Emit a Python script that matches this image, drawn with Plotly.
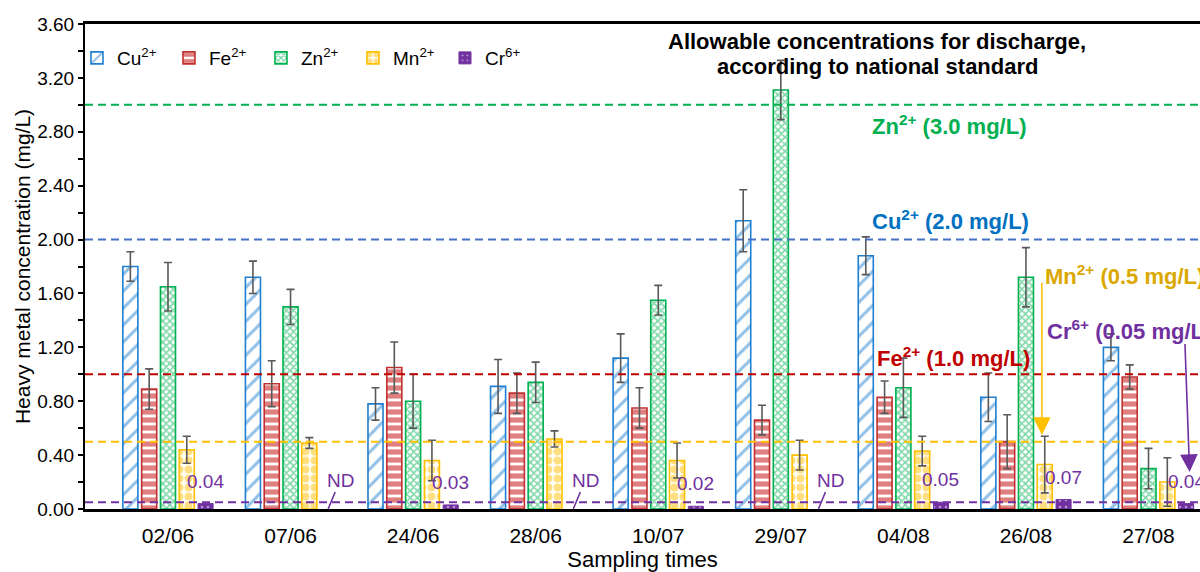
import plotly.graph_objects as go

# ---------------- data ----------------
dates = ["02/06", "07/06", "24/06", "28/06", "10/07", "29/07", "04/08", "26/08", "27/08"]

cu = [1.80, 1.72, 0.78, 0.91, 1.12, 2.14, 1.88, 0.83, 1.20]
cu_err = [0.11, 0.12, 0.12, 0.20, 0.18, 0.23, 0.14, 0.18, 0.10]

fe = [0.89, 0.93, 1.05, 0.86, 0.75, 0.66, 0.83, 0.50, 0.98]
fe_err = [0.15, 0.17, 0.19, 0.15, 0.15, 0.11, 0.12, 0.20, 0.09]

zn = [1.65, 1.50, 0.80, 0.94, 1.55, 3.11, 0.90, 1.72, 0.30]
zn_err = [0.18, 0.13, 0.20, 0.15, 0.11, 0.22, 0.22, 0.22, 0.15]

mn = [0.44, 0.49, 0.36, 0.52, 0.36, 0.40, 0.43, 0.33, 0.20]
mn_err = [0.10, 0.04, 0.15, 0.06, 0.13, 0.11, 0.11, 0.21, 0.18]

cr = [0.04, None, 0.03, None, 0.02, None, 0.05, 0.07, 0.04]
cr_labels = ["0.04", "ND", "0.03", "ND", "0.02", "ND", "0.05", "0.07", "0.04"]

limit_names = ["Zn", "Cu", "Fe", "Mn", "Cr"]
limit_values = [3.0, 2.0, 1.0, 0.5, 0.05]

# ---------------- styles ----------------
C_CU, C_CU_LINE, C_CU_TXT = "#1F7FD0", "#4472C4", "#0070C0"
C_FE = "#C00000"
C_ZN = "#00B050"
C_MN, C_MN_TXT = "#FFC000", "#DBA800"
C_CR = "#7030A0"
ERR = "#595959"
FONT = "Liberation Sans, Arial, sans-serif"

limit_colors = {"Zn": C_ZN, "Cu": C_CU_LINE, "Fe": C_FE, "Mn": C_MN, "Cr": C_CR}

def err(arr):
    return dict(type="data", array=arr, visible=True, color=ERR, thickness=1.6, width=4)

fig = go.Figure()
fig.add_trace(go.Bar(
    x=dates, y=cu, name="Cu<sup>2+</sup>", error_y=err(cu_err),
    marker=dict(color="white", line=dict(color=C_CU, width=1.6),
                pattern=dict(shape="/", fgcolor=C_CU, bgcolor="white", size=12, solidity=0.25)),
))
fig.add_trace(go.Bar(
    x=dates, y=fe, name="Fe<sup>2+</sup>", error_y=err(fe_err),
    marker=dict(color="white", line=dict(color="#C03030", width=1.6),
                pattern=dict(shape="-", fgcolor=C_FE, bgcolor="white", size=8, solidity=0.65)),
))
fig.add_trace(go.Bar(
    x=dates, y=zn, name="Zn<sup>2+</sup>", error_y=err(zn_err),
    marker=dict(color="white", line=dict(color=C_ZN, width=1.6),
                pattern=dict(shape="x", fgcolor=C_ZN, bgcolor="white", size=5, solidity=0.55)),
))
fig.add_trace(go.Bar(
    x=dates, y=mn, name="Mn<sup>2+</sup>", error_y=err(mn_err),
    marker=dict(color="white", line=dict(color=C_MN, width=1.6),
                pattern=dict(shape=".", fgcolor=C_MN, bgcolor="white", size=9, solidity=0.6)),
))
fig.add_trace(go.Bar(
    x=dates, y=cr, name="Cr<sup>6+</sup>",
    marker=dict(color=C_CR, line=dict(color=C_CR, width=1),
                pattern=dict(shape=".", fgcolor="white", bgcolor=C_CR, size=6, solidity=0.15)),
))

BARGAP = 0.233
n_series = 5
slot = (1 - BARGAP) / n_series
cr_off = 2 * slot

# threshold dashed lines
shapes = []
for name, val in zip(limit_names, limit_values):
    shapes.append(dict(type="line", xref="paper", x0=0, x1=1, yref="y", y0=val, y1=val,
                       line=dict(color=limit_colors[name], width=2, dash="8px,5px"), layer="above"))

annotations = []
# Cr data labels
for i, (v, lab) in enumerate(zip(cr, cr_labels)):
    if v is None:
        annotations.append(dict(x=i + cr_off, y=0, xref="x", yref="y", text=lab,
                                showarrow=True, arrowhead=0, arrowwidth=1.6, arrowcolor=C_CR,
                                ax=12, ay=-29, font=dict(size=19, color=C_CR, family=FONT)))
    else:
        annotations.append(dict(x=i + cr_off, y=v, xref="x", yref="y", text=lab,
                                showarrow=False, yanchor="bottom", yshift=10,
                                font=dict(size=19, color=C_CR, family=FONT)))

bold = dict(family=FONT, size=22)
annotations += [
    dict(x=5.785, y=3.467, xref="x", yref="y", showarrow=False,
         text="<b>Allowable concentrations for discharge,</b>", font=dict(color="black", **bold)),
    dict(x=5.785, y=3.281, xref="x", yref="y", showarrow=False,
         text="<b>according to national standard</b>", font=dict(color="black", **bold)),
    dict(x=5.727, y=2.851, xref="x", yref="y", xanchor="left", showarrow=False,
         text="<b>Zn<sup>2+</sup> (3.0 mg/L)</b>", font=dict(color=C_ZN, **bold)),
    dict(x=5.727, y=2.146, xref="x", yref="y", xanchor="left", showarrow=False,
         text="<b>Cu<sup>2+</sup> (2.0 mg/L)</b>", font=dict(color=C_CU_TXT, **bold)),
    dict(x=5.768, y=1.128, xref="x", yref="y", xanchor="left", showarrow=False,
         text="<b>Fe<sup>2+</sup> (1.0 mg/L)</b>", font=dict(color=C_FE, **bold)),
    dict(x=7.14, y=1.737, xref="x", yref="y", xanchor="left", showarrow=False,
         text="<b>Mn<sup>2+</sup> (0.5 mg/L)</b>", font=dict(color=C_MN_TXT, **bold)),
    dict(x=7.155, y=1.329, xref="x", yref="y", xanchor="left", showarrow=False,
         text="<b>Cr<sup>6+</sup> (0.05 mg/L)</b>", font=dict(color=C_CR, **bold)),
    # arrows
    dict(x=7.13, y=0.55, xref="x", yref="y", ax=7.13, ay=1.69, axref="x", ayref="y",
         text="", showarrow=True, arrowhead=2, arrowsize=2.2, arrowwidth=1.6, arrowcolor=C_MN),
    dict(x=8.335, y=0.275, xref="x", yref="y", ax=8.297, ay=1.236, axref="x", ayref="y",
         text="", showarrow=True, arrowhead=2, arrowsize=2.2, arrowwidth=1.6, arrowcolor=C_CR),
]

fig.update_layout(
    width=1200, height=572,
    margin=dict(l=85, r=0, t=24, b=63, autoexpand=False),
    paper_bgcolor="white", plot_bgcolor="white",
    barmode="group", bargap=BARGAP, bargroupgap=0.2,
    font=dict(family=FONT, size=19, color="black"),
    shapes=shapes, annotations=annotations,
    legend=dict(orientation="h", x=-0.0072, y=0.969, xanchor="left", yanchor="top",
                bgcolor="rgba(0,0,0,0)", font=dict(size=19, family=FONT),
                itemwidth=30, entrywidth=47, traceorder="normal"),
    xaxis=dict(type="category", categoryorder="array", categoryarray=dates,
               range=[-0.677, 8.42], showline=True, linecolor="black", linewidth=2.5,
               mirror=True, ticks="", tickfont=dict(size=21), ticklabelstandoff=6,
               automargin=False,
               title=dict(text="Sampling times", font=dict(size=22), standoff=2),
               showgrid=False, zeroline=False),
    yaxis=dict(range=[0, 3.6], dtick=0.4, tick0=0, tickformat=".2f",
               ticks="outside", ticklen=5, tickwidth=1.5, tickcolor="black",
               minor=dict(dtick=0.2, ticks="outside", ticklen=5, tickwidth=1.5, tickcolor="black"),
               showline=True, linecolor="black", linewidth=2, showgrid=False, zeroline=False,
               tickfont=dict(size=19), automargin=False,
               title=dict(text="Heavy metal concentration (mg/L)", font=dict(size=21), standoff=1)),
)

fig.write_html("out.html", config={"displayModeBar": False},
               post_script="document.body.style.margin='0';document.body.style.overflow='hidden';")
